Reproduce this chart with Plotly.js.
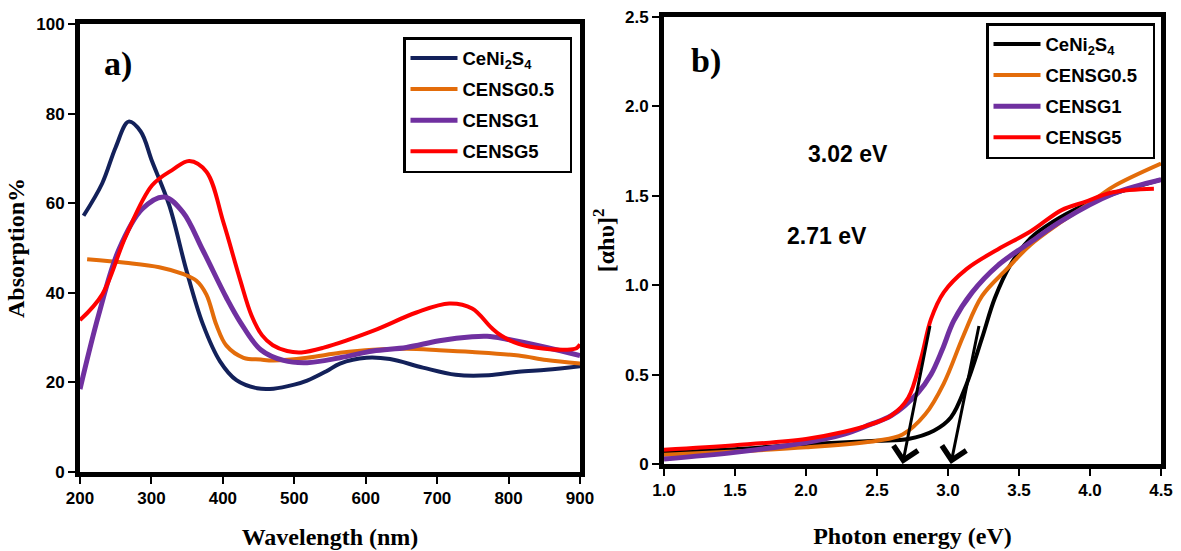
<!DOCTYPE html>
<html>
<head>
<meta charset="utf-8">
<script src="https://cdn.plot.ly/plotly-3.0.1.min.js"></script>
<style>html,body{margin:0;padding:0;background:#fff;}#chart{width:1181px;height:551px;}</style>
</head>
<body>
<div id="chart"></div>
<script>
// ---------- Panel a) : absorption vs wavelength ----------
const seriesNames = ["CeNi<sub>2</sub>S<sub>4</sub>", "CENSG0.5", "CENSG1", "CENSG5"];
const colorsA = ["#13215a", "#e36c0a", "#7030a0", "#ff0000"];
const colorsB = ["#000000", "#e36c0a", "#7030a0", "#ff0000"];

const wlCeNi2S4 = [205, 231, 250, 268, 285, 301, 325, 349, 372, 396, 419, 448, 471, 500, 518, 545, 564, 601, 634, 680, 726, 772, 814, 853, 900];
const absCeNi2S4 = [57.2, 64.4, 72.5, 78.2, 76, 69.3, 59.5, 45, 33, 24.7, 20.5, 18.7, 18.6, 19.5, 20.4, 22.5, 24.2, 25.5, 25.2, 23.3, 21.7, 21.6, 22.4, 22.8, 23.6];

const wlG05 = [210, 264, 311, 344, 363, 377, 391, 405, 429, 453, 471, 518, 564, 610, 657, 703, 749, 814, 853, 900];
const absG05 = [47.5, 46.7, 45.7, 44.2, 42.7, 39.6, 32.8, 28.2, 25.5, 25.1, 24.9, 25.5, 26.6, 27.3, 27.5, 27.2, 26.8, 26, 25, 24.2];

const wlG1 = [200, 226, 254, 287, 318, 344, 372, 405, 425, 453, 485, 518, 564, 610, 657, 703, 749, 770, 796, 853, 900];
const absG1 = [18.5, 35, 49.5, 58.7, 61.4, 58, 49.5, 38.9, 33.3, 27.3, 24.9, 24.4, 25.5, 27, 27.8, 29.3, 30.2, 30.3, 29.7, 27.8, 26];

const wlG5 = [200, 231, 264, 301, 330, 353, 377, 401, 424, 440, 455, 470, 490, 510, 540, 610, 671, 717, 749, 776, 790, 814, 837, 880, 895, 900];
const absG5 = [33.9, 39.6, 52.6, 64, 67.5, 69.4, 67, 55.6, 43, 35, 30.5, 28.3, 27, 26.7, 27.7, 31.5, 35.6, 37.6, 36.5, 32.2, 30.4, 28.6, 27.8, 27.3, 27.6, 28.5];

// ---------- Panel b) : Tauc plot ----------
const eCeNi2S4 = [1.0, 1.5, 2.0, 2.5, 2.72, 2.9, 3.02, 3.13, 3.24, 3.33, 3.44, 3.58, 3.74, 3.96, 4.16, 4.5];
const tCeNi2S4 = [0.065, 0.083, 0.11, 0.13, 0.14, 0.186, 0.26, 0.445, 0.705, 0.928, 1.114, 1.262, 1.355, 1.448, 1.51, 1.59];

const eG05 = [1.0, 1.5, 2.0, 2.5, 2.68, 2.84, 2.97, 3.11, 3.24, 3.42, 3.58, 3.80, 4.01, 4.16, 4.5];
const tG05 = [0.052, 0.07, 0.093, 0.13, 0.165, 0.278, 0.45, 0.72, 0.94, 1.095, 1.225, 1.355, 1.466, 1.55, 1.68];

const eG1 = [1.0, 1.5, 2.0, 2.27, 2.45, 2.6, 2.79, 2.88, 2.96, 3.04, 3.17, 3.35, 3.58, 3.80, 4.16, 4.5];
const tG1 = [0.028, 0.065, 0.12, 0.167, 0.22, 0.27, 0.40, 0.50, 0.64, 0.80, 0.96, 1.11, 1.24, 1.36, 1.51, 1.59];

const eG5 = [1.0, 1.5, 2.0, 2.27, 2.45, 2.6, 2.72, 2.81, 2.88, 2.97, 3.13, 3.35, 3.58, 3.80, 3.96, 4.16, 4.45];
const tG5 = [0.08, 0.105, 0.14, 0.18, 0.22, 0.27, 0.37, 0.59, 0.81, 0.96, 1.09, 1.2, 1.3, 1.42, 1.465, 1.52, 1.54];

// band-gap extrapolation arrows: [tailE, tailY, headE, headY]
const gapArrows = [[2.875, 0.78, 2.68, 0.0], [3.22, 0.78, 3.02, 0.0]];
const gapLabels = ["3.02 eV", "2.71 eV"];

const xTicksA = [200, 300, 400, 500, 600, 700, 800, 900];
const yTicksA = [0, 20, 40, 60, 80, 100];
const xTicksB = [1.0, 1.5, 2.0, 2.5, 3.0, 3.5, 4.0, 4.5];
const xTickTextB = ["1.0", "1.5", "2.0", "2.5", "3.0", "3.5", "4.0", "4.5"];
const yTicksB = [0, 0.5, 1.0, 1.5, 2.0, 2.5];
const yTickTextB = ["0", "0.5", "1.0", "1.5", "2.0", "2.5"];

const dataA = [[wlCeNi2S4, absCeNi2S4], [wlG05, absG05], [wlG1, absG1], [wlG5, absG5]];
const dataB = [[eCeNi2S4, tCeNi2S4], [eG05, tG05], [eG1, tG1], [eG5, tG5]];
const widthsA = [4, 4, 5, 4];
const widthsB = [4, 4, 5, 4];
const pad = '\u00a0\u00a0';

const traces = [];
dataA.forEach((d, i) => traces.push({
  x: d[0], y: d[1], type: 'scatter', mode: 'lines', name: seriesNames[i] + pad,
  line: {color: colorsA[i], width: widthsA[i], shape: 'spline', smoothing: 1},
  xaxis: 'x', yaxis: 'y', legend: 'legend', legendgroup: 'a' + i
}));
dataB.forEach((d, i) => traces.push({
  x: d[0], y: d[1], type: 'scatter', mode: 'lines', name: seriesNames[i] + pad,
  line: {color: colorsB[i], width: widthsB[i], shape: 'spline', smoothing: 1},
  xaxis: 'x2', yaxis: 'y2', legend: 'legend2', legendgroup: 'b' + i
}));

const tickFont = {family: 'Liberation Sans, Arial, sans-serif', size: 17, color: '#000', weight: 700};
const titleFont = {family: 'Liberation Serif, Times New Roman, serif', size: 24, color: '#000', weight: 700};
const legendFont = {family: 'Liberation Sans, Arial, sans-serif', size: 18.5, color: '#000', weight: 700};
const labelFont = {family: 'Liberation Sans, Arial, sans-serif', size: 23, color: '#000', weight: 700};
const panelFont = {family: 'Liberation Serif, Times New Roman, serif', size: 34, color: '#000', weight: 700};

const axisBase = {
  showline: true, mirror: true, linecolor: '#000', linewidth: 5,
  ticks: 'outside', ticklen: 7, tickwidth: 2, tickcolor: '#000',
  showgrid: false, zeroline: false, tickfont: tickFont, automargin: false, fixedrange: true
};

const txt = (text, x, y, font) => ({text: text, xref: 'paper', yref: 'paper', x: x, y: y,
  xanchor: 'center', yanchor: 'middle', showarrow: false, font: font});

const annotations = [
  txt('a)', 118/1181, 1 - 64/551, panelFont),
  txt('b)', 706/1181, 1 - 61/551, panelFont),
  txt(gapLabels[0], 848/1181, 1 - 154/551, labelFont),
  txt(gapLabels[1], 827/1181, 1 - 236/551, labelFont)
];
gapArrows.forEach(a => annotations.push({
  xref: 'x2', yref: 'y2', axref: 'x2', ayref: 'y2',
  x: a[2], y: a[3], ax: a[0], ay: a[1], text: '', showarrow: true,
  arrowhead: 4, arrowsize: 1.6, arrowwidth: 3, arrowcolor: '#000', standoff: 0
}));

const legendBase = {
  xanchor: 'right', yanchor: 'top', bordercolor: '#000', borderwidth: 2.5, bgcolor: '#fff',
  font: legendFont, traceorder: 'grouped', tracegroupgap: 4, itemwidth: 47
};

const layout = {
  width: 1181, height: 551,
  margin: {l: 0, r: 0, t: 0, b: 0},
  paper_bgcolor: '#fff', plot_bgcolor: '#fff',
  showlegend: true,
  xaxis: Object.assign({}, axisBase, {
    domain: [80/1181, 580/1181], range: [200, 900], tickvals: xTicksA, anchor: 'y',
    title: {text: 'Wavelength (nm)', font: titleFont, standoff: 22}
  }),
  yaxis: Object.assign({}, axisBase, {
    domain: [1 - 472/551, 1 - 24/551], range: [0, 100], tickvals: yTicksA, anchor: 'x',
    title: {text: 'Absorption%', font: titleFont, standoff: 6}
  }),
  xaxis2: Object.assign({}, axisBase, {
    domain: [664/1181, 1161/1181], range: [1.0, 4.5], tickvals: xTicksB, ticktext: xTickTextB, anchor: 'y2',
    title: {text: 'Photon energy (eV)', font: titleFont, standoff: 29}
  }),
  yaxis2: Object.assign({}, axisBase, {
    domain: [1 - 464/551, 1 - 17/551], range: [0, 2.5], tickvals: yTicksB, ticktext: yTickTextB, anchor: 'x2',
    title: {text: '[αhυ]<sup>2</sup>', font: titleFont, standoff: 5}
  }),
  legend: Object.assign({}, legendBase, {x: 572/1181, y: 1 - 37/551}),
  legend2: Object.assign({}, legendBase, {x: 1155/1181, y: 1 - 23/551}),
  annotations: annotations
};

Plotly.newPlot('chart', traces, layout, {displayModeBar: false, staticPlot: true});
</script>
</body>
</html>
